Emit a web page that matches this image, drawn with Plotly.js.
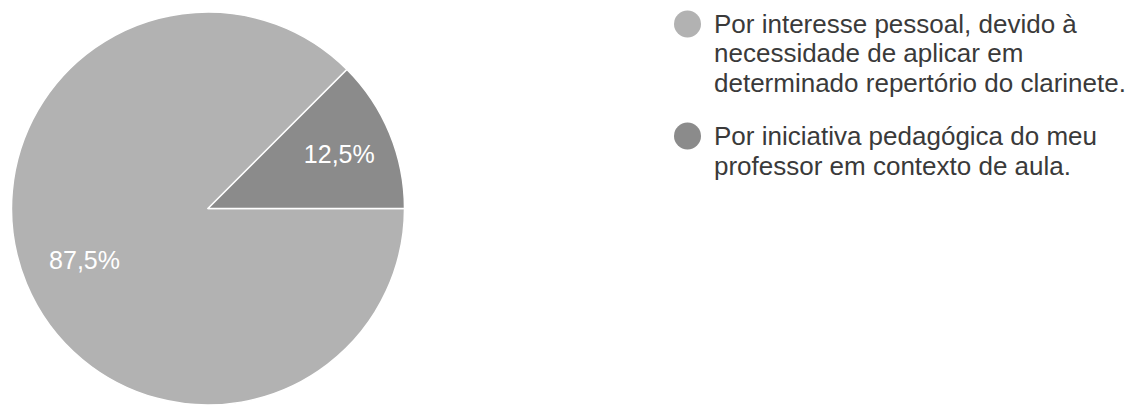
<!DOCTYPE html>
<html>
<head>
<meta charset="utf-8">
<script src="https://cdn.plot.ly/plotly-3.0.1.min.js"></script>
<style>html,body{margin:0;padding:0;background:#fff;}#chart{width:1139px;height:405px;}</style>
</head>
<body>
<div id="chart"></div>
<script>
// Data
const categories = [
  "Por interesse pessoal, devido à\nnecessidade de aplicar em\ndeterminado repertório do clarinete.",
  "Por iniciativa pedagógica do meu\nprofessor em contexto de aula."
];
const values = [87.5, 12.5];
const colors = ["#b2b2b2", "#8b8b8b"];

const W = 1139, H = 405;
const FONT = 'Arial, "Liberation Sans", sans-serif';
const pieDomain = {x: [11 / W, 405 / W], y: [0, 1 - 12 / H]};
const labels = categories.map(c => c.replace(/\n/g, ' '));

// Slices
const pieTrace = {
  type: 'pie',
  labels: labels,
  values: values,
  sort: false,
  direction: 'clockwise',
  rotation: 90,
  marker: {colors: colors, line: {color: '#ffffff', width: 1.5}},
  textinfo: 'none',
  showlegend: false,
  domain: pieDomain
};

// Transparent ring over the pie, only to place the percentage labels mid-radius
const labelTrace = {
  type: 'pie',
  labels: labels,
  values: values,
  sort: false,
  direction: 'clockwise',
  rotation: 90,
  hole: 0.36,
  marker: {colors: ['rgba(0,0,0,0)', 'rgba(0,0,0,0)'], line: {width: 0}},
  texttemplate: '%{percent:.1%}',
  textposition: 'inside',
  insidetextorientation: 'horizontal',
  textfont: {family: FONT, size: 25, color: '#ffffff'},
  showlegend: false,
  domain: pieDomain
};

// Legend built from the categories (text lines + circle symbols)
const annotations = [];
const shapes = [];
const legendX = 712;
const lineGap = 29.5;
const itemGap = 53;
let yMid = 24;
categories.forEach((cat, i) => {
  const lines = cat.split('\n');
  const cx = 687.5, r = 13.5, cy = yMid;
  shapes.push({
    type: 'circle', xref: 'paper', yref: 'paper',
    x0: (cx - r) / W, x1: (cx + r) / W,
    y0: 1 - (cy + r) / H, y1: 1 - (cy - r) / H,
    fillcolor: colors[i], line: {width: 0}
  });
  lines.forEach((ln, j) => {
    annotations.push({
      xref: 'paper', yref: 'paper',
      x: legendX / W, y: 1 - yMid / H,
      xanchor: 'left', yanchor: 'middle',
      text: ln, showarrow: false,
      font: {family: FONT, size: 26, color: '#3a3a3a'}
    });
    if (j < lines.length - 1) yMid += lineGap;
  });
  yMid += itemGap;
});

const layout = {
  width: W, height: H,
  margin: {l: 0, r: 0, t: 0, b: 0},
  paper_bgcolor: '#ffffff',
  plot_bgcolor: '#ffffff',
  separators: ',.',
  showlegend: false,
  annotations: annotations,
  shapes: shapes
};

Plotly.newPlot('chart', [pieTrace, labelTrace], layout, {displayModeBar: false, staticPlot: true});
</script>
</body>
</html>
